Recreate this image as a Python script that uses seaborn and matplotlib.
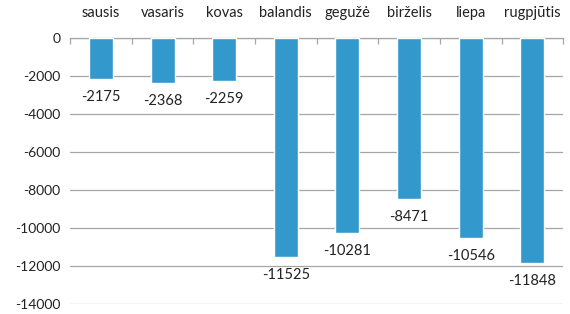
import matplotlib
matplotlib.use("Agg")
import matplotlib.pyplot as plt
import seaborn as sns
import pandas as pd
import numpy as np

months = ["sausis", "vasaris", "kovas", "balandis", "gegužė", "birželis", "liepa", "rugpjūtis"]
values = [-2175, -2368, -2259, -11525, -10281, -8471, -10546, -11848]
yticks = [0, -2000, -4000, -6000, -8000, -10000, -12000, -14000]

sns.set_style("white")
plt.rcParams['font.family'] = ['Lato', 'DejaVu Sans']

df = pd.DataFrame({"month": months, "value": values})

fig = plt.figure(figsize=(5.7, 3.14), dpi=100)
ax = fig.add_axes([0.123, 0.032, 0.865, 0.847])
sns.barplot(data=df, x="month", y="value", color="#3398cc", width=0.39,
            saturation=1, ax=ax, zorder=3)

ax.set_ylim(-14000, 0)
ax.set_xlim(-0.5, len(months) - 0.5)
ax.set_yticks(yticks)
ax.set_yticklabels([str(v) for v in yticks], fontsize=10, color="#222222")
ax.yaxis.grid(True, color="#a6a6a6", linewidth=0.9, zorder=0)
ax.set_axisbelow(True)
ax.tick_params(axis="y", length=4, color="#a6a6a6", width=0.9, pad=3)

ax.xaxis.tick_top()
ax.tick_params(axis="x", length=0, pad=13, labelsize=10.5, labelcolor="#222222")
ax.set_xticks(range(len(months)))
ax.set_xticklabels(months)
ax.set_xticks(np.arange(-0.5, len(months), 1.0), minor=True)
ax.tick_params(axis="x", which="minor", direction="in", length=4, color="#a6a6a6",
               width=0.9, top=True, bottom=False)

for s in ["left", "right", "bottom"]:
    ax.spines[s].set_visible(False)
ax.spines["top"].set_color("#a6a6a6")
ax.spines["top"].set_linewidth(0.9)

ax.set_xlabel("")
ax.set_ylabel("")

for i, v in enumerate(values):
    ax.annotate(str(v), xy=(i, v), xytext=(0, -13), textcoords="offset points",
                ha="center", va="center", fontsize=10.5, color="#222222")

fig.savefig("out.png", dpi=100)
